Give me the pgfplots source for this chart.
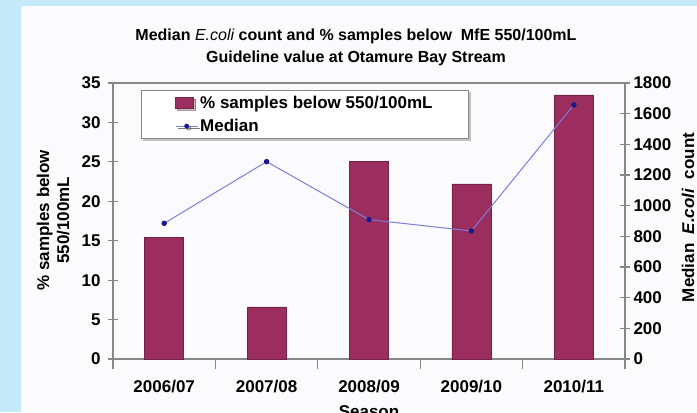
\documentclass[border=0pt]{standalone}
\usepackage{fontspec}
\setmainfont{Liberation Sans}
\usepackage{pgfplots}
\pgfplotsset{compat=1.18}
\usetikzlibrary{shadows}
\definecolor{bgblue}{RGB}{198,233,249}
\definecolor{plotbg}{RGB}{251,251,253}
\definecolor{barcol}{RGB}{155,46,94}
\definecolor{baredge}{RGB}{115,35,70}
\definecolor{linecol}{RGB}{125,125,220}
\definecolor{markcol}{RGB}{25,25,140}
\definecolor{axgray}{RGB}{135,135,135}
\newcommand{\cf}{\fontsize{17bp}{20bp}\selectfont\bfseries}
\newcommand{\tf}{\fontsize{16bp}{22bp}\selectfont\bfseries}
\pgfplotsset{
  common/.style={
    at={(113bp,53bp)}, anchor=south west,
    scale only axis, width=512bp, height=276bp,
    xmin=-0.5, xmax=4.5,
    axis line style={axgray, line width=1.1bp},
    tick style={axgray, line width=1.1bp},
    major tick length=10bp, tick align=center,
    /pgf/number format/assume math mode=true,
    /pgf/number format/1000 sep={},
    tick label style={font=\cf, black},
    label style={font=\cf, black},
  },
  medleg/.style={legend image code/.code={\draw[linecol, line width=1bp] (0bp,0bp) -- (22bp,0bp); \fill[markcol] (11bp,0bp) circle (2.2bp);}},
  barleg/.style={legend image code/.code={\draw[fill=barcol, draw=baredge] (0bp,-5.5bp) rectangle (18bp,5.5bp);}},
}
\begin{document}
\begin{tikzpicture}[x=1bp,y=1bp]
\path[use as bounding box, clip] (0,0) rectangle (697,412);
\fill[bgblue] (0,0) rectangle (697,412);
\fill[plotbg] (21,0) rectangle (697,406);
\begin{axis}[common,
  ymin=0, ymax=35, ytick={0,5,...,35},
  xtick={-0.5,0.5,...,4.5},
  x tick label as interval,
  xticklabels={2006/07,2007/08,2008/09,2009/10,2010/11},
  xtick pos=bottom, ytick pos=left,
  xticklabel style={yshift=-8bp},
  yticklabel style={xshift=-4bp},
  ybar, bar width=39bp,
  title={Median {\mdseries\itshape E.coli} count and \% samples below~~MfE 550/100mL\\Guideline value at Otamure Bay Stream},
  title style={font=\tf, align=center, at={(0.4746,1)}, anchor=south, yshift=8bp},
  ylabel={\% samples below\\550/100mL},
  ylabel style={align=center, at={(axis description cs:-0.117,0.503)}, anchor=center},
  xlabel={Season},
  xlabel style={at={(axis description cs:0.5,-0.169)}, anchor=north, inner sep=0pt},
  legend style={at={(0.0547,0.974)}, anchor=north west, draw=axgray, fill=white,
    font=\cf, inner xsep=34bp, inner ysep=4.5bp, row sep=7.5bp,
    nodes={inner ysep=1bp},
    drop shadow={shadow xshift=2bp, shadow yshift=-2bp, fill=black!45},
    legend cell align=left},
]
\addplot[fill=barcol, draw=baredge, line width=0.6bp, barleg]
  coordinates {(0,15.4) (1,6.6) (2,25.1) (3,22.2) (4,33.5)};
\addlegendentry{\% samples below 550/100mL}
\addlegendimage{medleg}
\addlegendentry{Median}
\end{axis}
\begin{axis}[common,
  ymin=0, ymax=1800, ytick={0,200,...,1800},
  axis x line=none, axis y line*=right,
  ylabel={Median~~\textit{E.coli}~~count},
  ylabel style={at={(axis description cs:1.123,0.513)}, anchor=center},
]
\addplot[linecol, line width=1bp, mark=*, mark size=2.2bp, mark options={fill=markcol, draw=markcol}]
  coordinates {(0,885) (1,1287) (2,909) (3,835) (4,1657)};
\end{axis}
\end{tikzpicture}
\end{document}
